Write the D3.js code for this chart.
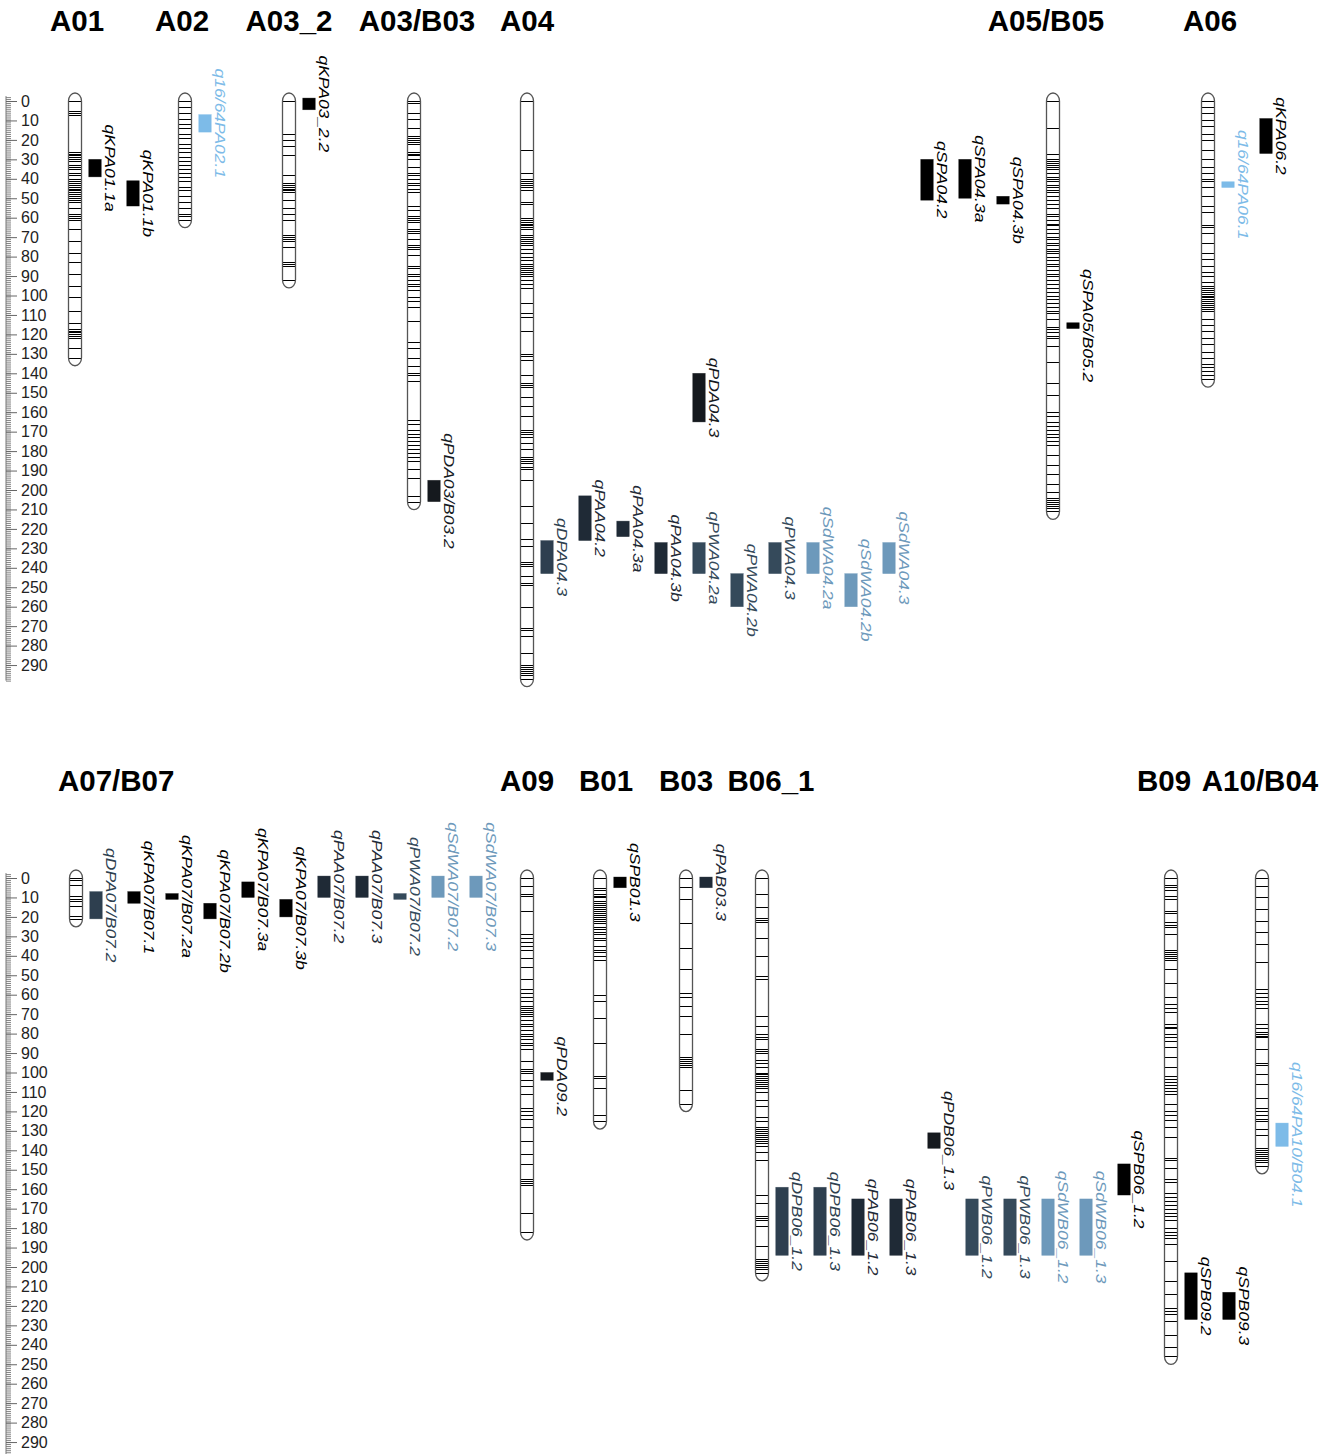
<!DOCTYPE html>
<html>
<head>
<meta charset="utf-8">
<script src="https://cdn.jsdelivr.net/npm/d3@7"></script>
<style>
  body { margin: 0; background: #fff; }
</style>
</head>
<body>
<div id="chart"></div>
<script>
/**
 * DATA
 * */
// linkage groups, one list per row
const topChroms = ["A01", "A02", "A03_2", "A03/B03", "A04", "A05/B05", "A06"];
const bottomChroms = ["A07/B07", "A09", "B01", "B03", "B06_1", "B09", "A10/B04"];

// length of each linkage group (cM)
const topLengths = [132, 61, 92, 206, 297, 211, 143];
const bottomLengths = [21, 182, 125, 116, 203, 246, 148];

// ruler labels
const axisTicks = [0, 10, 20, 30, 40, 50, 60, 70, 80, 90, 100, 110, 120, 130, 140, 150,
  160, 170, 180, 190, 200, 210, 220, 230, 240, 250, 260, 270, 280, 290];

// marker positions (cM)
const mA01 = [0, 5, 6, 7, 26, 27, 28, 29, 30, 31, 33, 34, 35, 37, 38, 40, 41, 42, 43, 44, 45, 46,
  47, 48, 49, 50, 51, 52, 55, 58, 59, 60, 61, 66, 72, 78, 83, 89, 95, 101, 108, 114, 117, 118,
  119, 120, 121, 122, 127, 132];
const mA02 = [0, 3, 6, 9, 12, 14, 17, 19, 22, 24, 26, 29, 31, 33, 35, 37, 39, 41, 44, 46, 49, 52,
  55, 58, 59, 61];
const mA03_2 = [0, 17, 20, 23, 28, 38, 42, 43, 44, 45, 46, 47, 51, 55, 58, 61, 69, 70, 71, 72, 75,
  83, 84, 85, 92];
const mA03B03 = [0, 1, 6, 9, 14, 18, 19, 20, 21, 22, 26, 27, 28, 30, 34, 37, 38, 40, 42, 43, 45,
  47, 54, 56, 59, 60, 61, 62, 66, 67, 68, 71, 74, 75, 76, 79, 85, 86, 89, 90, 92, 94, 95, 97, 101,
  103, 106, 113, 124, 127, 132, 136, 140, 141, 144, 164, 166, 169, 171, 173, 175, 177, 179, 181,
  183, 185, 189, 194, 203, 206];
const mA04 = [0, 25, 37, 40, 41, 42, 43, 44, 46, 52, 53, 60, 61, 62, 63, 64, 65, 66, 69, 70, 71,
  72, 73, 74, 76, 78, 80, 82, 84, 85, 86, 87, 88, 89, 90, 92, 94, 96, 104, 109, 111, 118, 130,
  131, 133, 141, 145, 146, 147, 152, 157, 162, 169, 170, 171, 173, 176, 179, 183, 184, 185, 186,
  188, 189, 195, 208, 217, 225, 229, 237, 238, 239, 244, 248, 249, 260, 271, 272, 275, 284, 290,
  291, 292, 293, 294, 295, 297];
const mA05B05 = [0, 14, 27, 30, 31, 32, 33, 34, 35, 37, 39, 40, 41, 43, 44, 46, 47, 49, 51, 53, 55,
  58, 59, 61, 63, 64, 66, 68, 70, 71, 73, 74, 76, 77, 78, 80, 82, 84, 85, 87, 89, 90, 92, 94, 96,
  98, 100, 102, 104, 106, 108, 109, 112, 116, 117, 119, 121, 122, 126, 134, 145, 151, 160, 162,
  165, 167, 169, 171, 173, 175, 177, 182, 187, 192, 197, 201, 204, 205, 206, 207, 208, 209, 211];
const mA06 = [0, 3, 6, 10, 13, 17, 20, 25, 30, 34, 37, 40, 41, 44, 49, 54, 57, 64, 65, 68, 73, 78,
  81, 85, 88, 90, 93, 95, 96, 97, 98, 99, 100, 101, 102, 103, 104, 105, 106, 107, 108, 112, 115,
  118, 122, 125, 129, 132, 135, 137, 139, 141, 143];
const mA07B07 = [0, 1, 3.5, 9.5, 11, 12, 14.5, 19.5, 21];
const mA09 = [0, 4, 8, 9.5, 17, 29, 31, 33, 35, 37, 41, 46, 52, 57, 59, 61, 63, 66, 67, 68, 69, 70,
  71, 73, 75, 76, 78, 80, 81, 83, 85, 86, 88, 94, 98, 99, 100, 104, 107, 111, 118, 120, 122, 124,
  128, 135, 142, 147, 155, 156, 157, 158, 172, 182];
const mB01 = [0, 5, 6, 8, 9, 10, 12, 13, 14, 15, 16, 17, 18, 19, 20, 21, 22, 23, 25, 26, 28, 29,
  31, 32, 35, 37, 38, 40, 42, 60, 63, 72, 85, 102, 103, 108, 122, 125];
const mB03 = [0, 4.5, 11, 23, 36, 47, 59, 61, 66, 71, 80, 92, 93, 94, 95, 96, 97, 109, 116];
const mB06_1 = [0, 8, 15, 20.5, 21.5, 22.5, 31, 40, 50.5, 52, 71, 76, 80, 81.5, 83, 88, 89, 90,
  93.5, 95, 97, 100, 101, 102, 103, 104, 105, 106, 107, 108, 110, 114, 117, 123, 125, 128, 129,
  130, 131, 132, 133, 134, 135, 136, 138, 141, 145, 163, 167, 174, 175, 176, 179, 189, 196, 197,
  198, 199, 200, 201, 203];
const mB09 = [0, 3.5, 4.5, 6, 9.5, 11, 17, 18, 22.5, 24, 25, 29, 37, 38, 39, 40, 41, 42, 47, 54,
  61, 65, 67, 69, 75, 76.5, 77, 80, 82, 84, 87, 92, 97, 102, 103.5, 105, 106.5, 108, 109.5, 111,
  116, 120, 122, 124.5, 128, 133, 144, 144.8, 149, 155, 156.5, 162, 164, 166, 168, 170, 172, 174,
  176, 180, 182, 183.5, 185, 188, 197, 207, 214, 221, 222.5, 224, 228, 235, 241, 246];
const mA10B04 = [0, 4, 10, 16, 22, 28, 34, 43, 57, 59, 61, 63, 65, 67, 75, 77, 79, 80, 81, 82, 88,
  95, 96, 101, 106, 113, 118, 120, 122, 124, 125, 129, 132, 139, 140, 141, 142, 143, 144, 145,
  146, 148];

const markers = {
  "A01": mA01, "A02": mA02, "A03_2": mA03_2, "A03/B03": mA03B03, "A04": mA04,
  "A05/B05": mA05B05, "A06": mA06, "A07/B07": mA07B07, "A09": mA09, "B01": mB01,
  "B03": mB03, "B06_1": mB06_1, "B09": mB09, "A10/B04": mA10B04
};

// QTL intervals: [linkage group, name, start cM, end cM, column beside the group]
const topQtls = [
  ["A01", "qKPA01.1a", 30, 39, 0],
  ["A01", "qKPA01.1b", 41, 54, 1],
  ["A02", "q16/64PA02.1", 7, 16, 0],
  ["A03_2", "qKPA03_2.2", -1.5, 4.5, 0],
  ["A03/B03", "qPDA03/B03.2", 195, 206, 0],
  ["A04", "qDPA04.3", 226, 243, 0],
  ["A04", "qPAA04.2", 203, 226, 1],
  ["A04", "qPAA04.3a", 216, 224, 2],
  ["A04", "qPAA04.3b", 227, 243, 3],
  ["A04", "qPWA04.2a", 227, 243, 4],
  ["A04", "qPDA04.3", 140, 165, 4],
  ["A04", "qPWA04.2b", 243, 260, 5],
  ["A04", "qPWA04.3", 227, 243, 6],
  ["A04", "qSdWA04.2a", 227, 243, 7],
  ["A04", "qSdWA04.2b", 243, 260, 8],
  ["A04", "qSdWA04.3", 227, 243, 9],
  ["A04", "qSPA04.2", 30, 51, 10],
  ["A04", "qSPA04.3a", 30, 50, 11],
  ["A04", "qSPA04.3b", 49, 53, 12],
  ["A05/B05", "qSPA05/B05.2", 114, 117, 0],
  ["A06", "q16/64PA06.1", 41.5, 44.5, 0],
  ["A06", "qKPA06.2", 9, 27, 1]
];
const bottomQtls = [
  ["A07/B07", "qDPA07/B07.2", 7, 21, 0],
  ["A07/B07", "qKPA07/B07.1", 7, 13, 1],
  ["A07/B07", "qKPA07/B07.2a", 8, 11, 2],
  ["A07/B07", "qKPA07/B07.2b", 13, 21, 3],
  ["A07/B07", "qKPA07/B07.3a", 2, 10, 4],
  ["A07/B07", "qKPA07/B07.3b", 11, 20, 5],
  ["A07/B07", "qPAA07/B07.2", -1, 10, 6],
  ["A07/B07", "qPAA07/B07.3", -1, 10, 7],
  ["A07/B07", "qPWA07/B07.2", 8, 11, 8],
  ["A07/B07", "qSdWA07/B07.2", -1, 10, 9],
  ["A07/B07", "qSdWA07/B07.3", -1, 10, 10],
  ["A09", "qPDA09.2", 100, 104, 0],
  ["B01", "qSPB01.3", -0.5, 5, 0],
  ["B03", "qPAB03.3", -0.5, 5, 0],
  ["B06_1", "qDPB06_1.2", 159, 194, 0],
  ["B06_1", "qDPB06_1.3", 159, 194, 1],
  ["B06_1", "qPAB06_1.2", 165, 194, 2],
  ["B06_1", "qPAB06_1.3", 165, 194, 3],
  ["B06_1", "qPDB06_1.3", 131, 139, 4],
  ["B06_1", "qPWB06_1.2", 165, 194, 5],
  ["B06_1", "qPWB06_1.3", 165, 194, 6],
  ["B06_1", "qSdWB06_1.2", 165, 194, 7],
  ["B06_1", "qSdWB06_1.3", 165, 194, 8],
  ["B06_1", "qSPB06_1.2", 147, 163, 9],
  ["B09", "qSPB09.2", 203, 227, 0],
  ["B09", "qSPB09.3", 213, 227, 1],
  ["A10/B04", "q16/64PA10/B04.1", 126, 138, 0]
];

/**
 * LAYOUT AND STYLE
 * */
const width = 1331, height = 1454;
const pxPerCM = 1.945;
const chromW = 13, capH = 8, barW = 12.5;
const colStart = 20, colStep = 38;

// centre of each linkage group
const chromX = {
  "A01": 75, "A02": 185, "A03_2": 289, "A03/B03": 414, "A04": 527, "A05/B05": 1053, "A06": 1208,
  "A07/B07": 76, "A09": 527, "B01": 600, "B03": 686, "B06_1": 762, "B09": 1171, "A10/B04": 1262
};
// small nudges of the titles off the group centre
const titleNudge = {
  "A01": 2, "A02": -3, "A03/B03": 3, "A05/B05": -7, "A06": 2,
  "B01": 6, "B06_1": 9, "B09": -7, "A10/B04": -2
};

const panels = [
  { chroms: topChroms, lengths: topLengths, qtls: topQtls, y0: 101, titleY: 31 },
  { chroms: bottomChroms, lengths: bottomLengths, qtls: bottomQtls, y0: 878, titleY: 791 }
];

// colour by trait prefix
function traitColor(name) {
  if (name.startsWith("q16/64")) return "#7dbbe8";
  if (name.startsWith("qSdW")) return "#6d99bb";
  if (name.startsWith("qPW")) return "#354a5b";
  if (name.startsWith("qPA")) return "#1f2a36";
  if (name.startsWith("qDP")) return "#2e3f4f";
  if (name.startsWith("qPD")) return "#15191e";
  return "#000";
}

const FONT = "'Liberation Sans', Arial, Helvetica, sans-serif";

const svg = d3.select("#chart")
  .append("svg")
  .attr("width", width)
  .attr("height", height)
  .style("background", "#fff");

panels.forEach(p => {
  const y = d3.scaleLinear()
    .domain([0, 290])
    .range([p.y0, p.y0 + 290 * pxPerCM]);

  const g = svg.append("g");

  // ruler: minor ticks every cM, major every 10
  const ruler = g.append("g").attr("transform", "translate(6,0)");
  ruler.append("line")
    .attr("x1", 0).attr("x2", 0)
    .attr("y1", y(-2.5)).attr("y2", y(298))
    .attr("stroke", "#777").attr("stroke-width", 1);
  ruler.append("g")
    .call(d3.axisRight(y).tickValues(d3.range(-2, 299)).tickSize(5).tickFormat("").tickSizeOuter(0))
    .call(a => a.select(".domain").remove())
    .call(a => a.selectAll("line").attr("stroke", "#777").attr("stroke-width", 0.9));
  ruler.append("g")
    .call(d3.axisRight(y).tickValues(axisTicks).tickSize(11).tickPadding(4).tickSizeOuter(0))
    .call(a => a.select(".domain").remove())
    .call(a => a.selectAll("line").attr("stroke", "#666").attr("stroke-width", 1))
    .call(a => a.selectAll("text")
      .attr("fill", "#222")
      .style("font", `16px ${FONT}`));

  // linkage groups
  p.chroms.forEach((name, i) => {
    const len = p.lengths[i];
    const cx = chromX[name];
    const cg = g.append("g");

    cg.append("rect")
      .attr("x", cx - chromW / 2)
      .attr("y", y(0) - capH)
      .attr("width", chromW)
      .attr("height", y(len) - y(0) + capH * 2)
      .attr("rx", chromW / 2).attr("ry", capH)
      .attr("fill", "#fff");

    cg.selectAll("line.marker")
      .data(markers[name])
      .join("line")
      .attr("class", "marker")
      .attr("x1", cx - chromW / 2 + 0.5)
      .attr("x2", cx + chromW / 2 - 0.5)
      .attr("y1", d => Math.round(y(d)) + 0.5)
      .attr("y2", d => Math.round(y(d)) + 0.5)
      .attr("stroke", "#000")
      .attr("stroke-width", 1)
      .attr("shape-rendering", "crispEdges");

    cg.append("rect")
      .attr("x", cx - chromW / 2)
      .attr("y", y(0) - capH)
      .attr("width", chromW)
      .attr("height", y(len) - y(0) + capH * 2)
      .attr("rx", chromW / 2).attr("ry", capH)
      .attr("fill", "none")
      .attr("stroke", "#555")
      .attr("stroke-width", 1.3);

    // title, kept clear of the ruler
    const t = g.append("text")
      .attr("x", cx + (titleNudge[name] || 0))
      .attr("y", p.titleY)
      .attr("text-anchor", "middle")
      .style("font", `bold 29.5px ${FONT}`)
      .attr("fill", "#000")
      .text(name);
    const bb = t.node().getBBox();
    if (bb.x < 45) t.attr("x", 58 + bb.width / 2);
  });

  // QTL bars and labels
  const qg = g.selectAll("g.qtl")
    .data(p.qtls)
    .join("g")
    .attr("class", "qtl");

  qg.append("rect")
    .attr("x", d => chromX[d[0]] + colStart + colStep * d[4] - barW / 2)
    .attr("y", d => y(d[2]))
    .attr("width", barW)
    .attr("height", d => y(d[3]) - y(d[2]))
    .attr("fill", d => traitColor(d[1]))
    .attr("stroke", d => traitColor(d[1]))
    .attr("stroke-opacity", 0.6)
    .attr("stroke-width", 0.6);

  qg.append("text")
    .attr("transform", d => {
      const cx = chromX[d[0]] + colStart + colStep * d[4];
      const cy = (y(d[2]) + y(d[3])) / 2;
      return `translate(${cx + 10},${cy}) rotate(90) scale(1.25,1)`;
    })
    .attr("text-anchor", "middle")
    .style("font", `italic 14px ${FONT}`)
    .attr("fill", d => traitColor(d[1]))
    .text(d => d[1]);
});
</script>
</body>
</html>
